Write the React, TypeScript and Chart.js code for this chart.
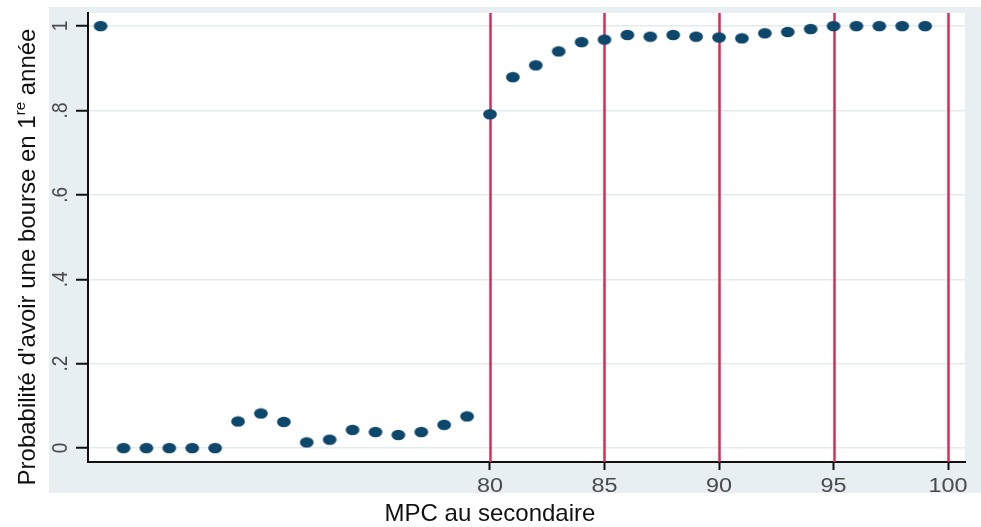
import React, { useEffect, useRef } from "react";
import { Chart, registerables } from "chart.js";

Chart.register(...registerables);

// ---- data ----
const mpcValues = [63, 64, 65, 66, 67, 68, 69, 70, 71, 72, 73, 74, 75, 76, 77, 78, 79, 80, 81, 82, 83, 84, 85, 86, 87, 88, 89, 90, 91, 92, 93, 94, 95, 96, 97, 98, 99];
const probValues = [1.0, 0, 0, 0, 0, 0, 0.063, 0.082, 0.062, 0.0135, 0.02, 0.043, 0.038, 0.031, 0.038, 0.055, 0.075, 0.791, 0.879, 0.907, 0.94, 0.962, 0.968, 0.979, 0.975, 0.979, 0.975, 0.973, 0.971, 0.983, 0.986, 0.993, 1.0, 1.0, 1.0, 1.0, 1.0];
const refLines = [80, 85, 90, 95, 100];
const xTickValues = [80, 85, 90, 95, 100];
const xTickLabels = ["80", "85", "90", "95", "100"];
const yTickValues = [0, 0.2, 0.4, 0.6, 0.8, 1];
const yTickLabels = ["0", ".2", ".4", ".6", ".8", "1"];
const xTitle = "MPC au secondaire";
const yTitleMain = "Probabilité d'avoir une bourse en 1";
const yTitleSup = "re";
const yTitleEnd = " année";

// ---- style ----
const W = 981;
const H = 527;
const BG = "#e7eff2";
const GRID = "#e1ecef";
const MARKER = "#0d476c";
const RED = "#dc2a55";
const FONT = "'Liberation Sans', Arial, sans-serif";

function makeMarker(): HTMLCanvasElement {
  const c = document.createElement("canvas");
  c.width = 16;
  c.height = 12;
  const g = c.getContext("2d")!;
  g.fillStyle = MARKER;
  g.beginPath();
  g.ellipse(8, 6, 6.9, 5.2, 0, 0, Math.PI * 2);
  g.fill();
  return c;
}

const decor = {
  id: "decor",
  beforeDraw(chart: any) {
    const ctx = chart.ctx;
    const a = chart.chartArea;
    ctx.save();
    ctx.fillStyle = "#ffffff";
    ctx.fillRect(0, 0, W, H);
    ctx.fillStyle = BG;
    ctx.fillRect(49, 7, W - 49, 493 - 7);
    ctx.fillStyle = "#ffffff";
    ctx.fillRect(a.left, a.top, a.right - a.left, a.bottom - a.top);
    ctx.restore();
  },
  beforeDatasetsDraw(chart: any) {
    const ctx = chart.ctx;
    const a = chart.chartArea;
    const xs = chart.scales.x;
    ctx.save();
    ctx.strokeStyle = RED;
    ctx.lineWidth = 2.5;
    for (const v of refLines) {
      const px = Math.round(xs.getPixelForValue(v)) + 0.5;
      ctx.beginPath();
      ctx.moveTo(px, a.top);
      ctx.lineTo(px, a.bottom);
      ctx.stroke();
    }
    ctx.restore();
  },
  afterDraw(chart: any) {
    const ctx = chart.ctx;
    const xs = chart.scales.x;
    const ys = chart.scales.y;
    ctx.save();
    // x tick labels
    ctx.fillStyle = "#4a4a4a";
    ctx.font = `19.5px ${FONT}`;
    ctx.textAlign = "center";
    ctx.textBaseline = "alphabetic";
    xTickValues.forEach((v, i) => {
      const px = xs.getPixelForValue(v);
      ctx.save();
      ctx.translate(px, 492);
      ctx.scale(1.2, 1);
      ctx.fillText(xTickLabels[i], 0, 0);
      ctx.restore();
    });
    // y tick labels (rotated)
    ctx.font = `19px ${FONT}`;
    yTickValues.forEach((v, i) => {
      const py = ys.getPixelForValue(v);
      ctx.save();
      ctx.translate(67, py);
      ctx.scale(1.2, 1);
      ctx.rotate(-Math.PI / 2);
      ctx.fillText(yTickLabels[i], 0, 0);
      ctx.restore();
    });
    // x title
    ctx.fillStyle = "#111111";
    ctx.font = `24px ${FONT}`;
    ctx.textAlign = "center";
    ctx.fillText(xTitle, 490, 521);
    // y title with superscript
    ctx.save();
    ctx.translate(35, 257);
    ctx.rotate(-Math.PI / 2);
    ctx.textAlign = "left";
    const mainFont = `24px ${FONT}`;
    const supFont = `15px ${FONT}`;
    ctx.font = mainFont;
    const w1 = ctx.measureText(yTitleMain).width;
    const w3 = ctx.measureText(yTitleEnd).width;
    ctx.font = supFont;
    const w2 = ctx.measureText(yTitleSup).width;
    let x0 = -(w1 + w2 + w3) / 2;
    ctx.font = mainFont;
    ctx.fillText(yTitleMain, x0, 0);
    x0 += w1;
    ctx.font = supFont;
    ctx.fillText(yTitleSup, x0, -10);
    x0 += w2;
    ctx.font = mainFont;
    ctx.fillText(yTitleEnd, x0, 0);
    ctx.restore();
    ctx.restore();
  },
};

export default function App() {
  const ref = useRef<HTMLCanvasElement | null>(null);
  useEffect(() => {
    if (!ref.current) return;
    const marker = makeMarker();
    const chart = new Chart(ref.current, {
      type: "scatter",
      data: {
        datasets: [
          {
            label: "Probabilité",
            data: mpcValues.map((x, i) => ({ x, y: probValues[i] })),
            pointStyle: marker as any,
            pointRadius: 7,
            backgroundColor: MARKER,
            borderColor: MARKER,
          },
        ],
      },
      options: {
        animation: false,
        responsive: false,
        devicePixelRatio: 1,
        layout: { padding: { top: 13, right: 16, left: 0, bottom: 0 } },
        plugins: { legend: { display: false }, tooltip: { enabled: false } },
        scales: {
          x: {
            type: "linear",
            min: 62.45,
            max: 100.74,
            afterBuildTicks: (s: any) => {
              s.ticks = xTickValues.map((v) => ({ value: v }));
            },
            afterFit: (s: any) => {
              s.height = H - 462;
            },
            ticks: { display: false },
            grid: {
              drawOnChartArea: false,
              drawTicks: true,
              tickLength: 8,
              tickColor: "#111111",
              tickWidth: 2,
            },
            border: { color: "#111111", width: 2 },
          },
          y: {
            type: "linear",
            min: -0.033,
            max: 1.031,
            afterBuildTicks: (s: any) => {
              s.ticks = yTickValues.map((v) => ({ value: v }));
            },
            afterFit: (s: any) => {
              s.width = 88;
            },
            ticks: { display: false },
            grid: {
              color: GRID,
              lineWidth: 1.5,
              drawTicks: true,
              tickLength: 12,
              tickColor: "#111111",
              tickWidth: 2,
            },
            border: { color: "#111111", width: 2 },
          },
        },
      },
      plugins: [decor],
    });
    return () => chart.destroy();
  }, []);
  return (
    <div style={{ position: "fixed", left: 0, top: 0, width: W, height: H, background: "#fff" }}>
      <canvas ref={ref} width={W} height={H} style={{ display: "block", width: W, height: H }} />
    </div>
  );
}
